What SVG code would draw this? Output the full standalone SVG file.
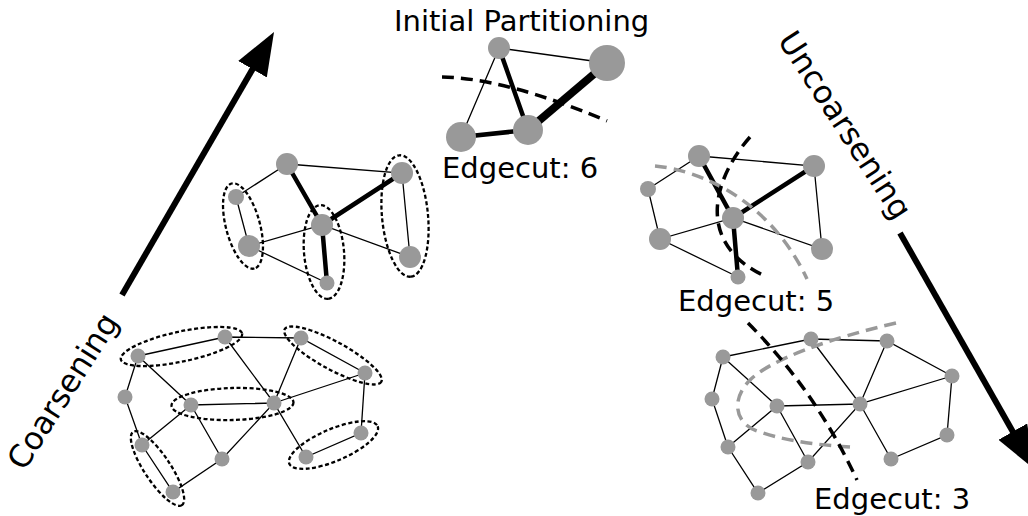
<svg xmlns="http://www.w3.org/2000/svg" width="1028" height="516" viewBox="0 0 1028 516">
<defs>
<style>
.n{fill:#999}
.e{stroke:#000;stroke-width:1.3;fill:none}
.t{stroke:#000;stroke-width:4.5;fill:none}
.grp{fill:none;stroke:#000;stroke-width:2.3;stroke-dasharray:4 2.5}
.cut{fill:none;stroke:#000;stroke-width:3.5;stroke-dasharray:12 7}
.gcut{fill:none;stroke:#999;stroke-width:3.5;stroke-dasharray:12 7}
.arr{stroke:#000;stroke-width:6;fill:none}
.lbl{font-family:"DejaVu Sans",sans-serif;font-size:29px;fill:#000}
.rot{font-size:31.5px}
</style>
<marker id="head" markerUnits="userSpaceOnUse" markerWidth="43" markerHeight="33" viewBox="0 0 43 33" refX="3" refY="16.5" orient="auto">
<path d="M0,0 L43,16.5 L0,33 z" fill="#000"/>
</marker>
</defs>
<rect width="1028" height="516" fill="#fff"/>

<g id="connectors">
<path class="e" d="M138,356 L225,337 L301,338 L365,373 M138,356 L125,397 L142,445 L173,492 L222,459 L274,403 L191,405 L138,356 M225,337 L274,403 L301,338 M365,373 L274,403 L306,457 L361,433 L365,373 M191,405 L142,445 M191,405 L222,459"/>
<path class="e" d="M287,164 L402,173 L410,257 L322,225 L249,246 L236,197 L287,164 M249,246 L327,283"/>
<path class="t" d="M287,164 L322,225 L327,283 M322,225 L402,173"/>
<path class="e" d="M499,48 L607,63 M499,48 L461,137"/>
<path class="t" d="M499,48 L528,130 L461,137"/>
<path stroke="#000" stroke-width="8" d="M528,130 L607,63"/>
<path class="e" d="M699,156 L814,166 L822,249 L733,218 L660,239 L648,189 L699,156 M660,239 L738,277"/>
<path class="t" d="M699,156 L733,218 L738,277 M733,218 L814,166"/>
<path class="e" d="M723,357 L811,339 L887,341 L952,376 M723,357 L712,399 L728,447 L758,493 L808,462 L860,404 L777,406 L723,357 M811,339 L860,404 L887,341 M952,376 L860,404 L891,459 L947,435 L952,376 M777,406 L728,447 M777,406 L808,462"/>
<path class="arr" d="M122,295 L254,66.6" marker-end="url(#head)"/>
<path class="arr" d="M900,233 L1014.3,434.2" marker-end="url(#head)"/>
</g>

<g id="nodes-level0">
<g id="a0"><circle class="n" cx="138" cy="356" r="7.5"/></g>
<g id="a1"><circle class="n" cx="225" cy="337" r="7.5"/></g>
<g id="a2"><circle class="n" cx="301" cy="338" r="7.5"/></g>
<g id="a3"><circle class="n" cx="365" cy="373" r="7.5"/></g>
<g id="a4"><circle class="n" cx="125" cy="397" r="7.5"/></g>
<g id="a5"><circle class="n" cx="191" cy="405" r="7.5"/></g>
<g id="a6"><circle class="n" cx="274" cy="403" r="7.5"/></g>
<g id="a7"><circle class="n" cx="361" cy="433" r="7.5"/></g>
<g id="a8"><circle class="n" cx="142" cy="445" r="7.5"/></g>
<g id="a9"><circle class="n" cx="222" cy="459" r="7.5"/></g>
<g id="a10"><circle class="n" cx="306" cy="457" r="7.5"/></g>
<g id="a11"><circle class="n" cx="173" cy="492" r="7.5"/></g>
</g>
<g id="nodes-level1">
<g id="b0"><circle class="n" cx="287" cy="164" r="11"/></g>
<g id="b1"><circle class="n" cx="236" cy="197" r="8"/></g>
<g id="b2"><circle class="n" cx="249" cy="246" r="11"/></g>
<g id="b3"><circle class="n" cx="322" cy="225" r="11"/></g>
<g id="b4"><circle class="n" cx="327" cy="283" r="7.5"/></g>
<g id="b5"><circle class="n" cx="402" cy="173" r="11"/></g>
<g id="b6"><circle class="n" cx="410" cy="257" r="11"/></g>
</g>
<g id="nodes-level2">
<g id="c0"><circle class="n" cx="499" cy="48" r="11"/></g>
<g id="c1"><circle class="n" cx="607" cy="63" r="18"/></g>
<g id="c2"><circle class="n" cx="461" cy="137" r="15"/></g>
<g id="c3"><circle class="n" cx="528" cy="130" r="15"/></g>
</g>
<g id="nodes-proj1">
<g id="d0"><circle class="n" cx="699" cy="156" r="11"/></g>
<g id="d1"><circle class="n" cx="648" cy="189" r="8"/></g>
<g id="d2"><circle class="n" cx="660" cy="239" r="11"/></g>
<g id="d3"><circle class="n" cx="733" cy="218" r="11"/></g>
<g id="d4"><circle class="n" cx="738" cy="277" r="7.5"/></g>
<g id="d5"><circle class="n" cx="814" cy="166" r="11"/></g>
<g id="d6"><circle class="n" cx="822" cy="249" r="11"/></g>
</g>
<g id="nodes-proj0">
<g id="f0"><circle class="n" cx="723" cy="357" r="7.5"/></g>
<g id="f1"><circle class="n" cx="811" cy="339" r="7.5"/></g>
<g id="f2"><circle class="n" cx="887" cy="341" r="7.5"/></g>
<g id="f3"><circle class="n" cx="952" cy="376" r="7.5"/></g>
<g id="f4"><circle class="n" cx="712" cy="399" r="7.5"/></g>
<g id="f5"><circle class="n" cx="777" cy="406" r="7.5"/></g>
<g id="f6"><circle class="n" cx="860" cy="404" r="7.5"/></g>
<g id="f7"><circle class="n" cx="947" cy="435" r="7.5"/></g>
<g id="f8"><circle class="n" cx="728" cy="447" r="7.5"/></g>
<g id="f9"><circle class="n" cx="808" cy="462" r="7.5"/></g>
<g id="f10"><circle class="n" cx="891" cy="459" r="7.5"/></g>
<g id="f11"><circle class="n" cx="758" cy="493" r="7.5"/></g>
</g>

<g id="groupings">
<ellipse class="grp" cx="181.5" cy="346.5" rx="62" ry="15" transform="rotate(-12 181.5 346.5)"/>
<ellipse class="grp" cx="333" cy="355.5" rx="55" ry="14" transform="rotate(28.5 333 355.5)"/>
<ellipse class="grp" cx="232.5" cy="404" rx="61" ry="16" transform="rotate(-1.5 232.5 404)"/>
<ellipse class="grp" cx="157.5" cy="468.5" rx="44" ry="13" transform="rotate(56.4 157.5 468.5)"/>
<ellipse class="grp" cx="333.5" cy="445" rx="48" ry="16" transform="rotate(-23 333.5 445)"/>
<ellipse class="grp" cx="243" cy="226" rx="44" ry="17" transform="rotate(75 243 226)"/>
<ellipse class="grp" cx="324" cy="252" rx="47" ry="20" transform="rotate(85 324 252)"/>
<ellipse class="grp" cx="405" cy="216" rx="61" ry="23" transform="rotate(84.6 405 216)"/>
</g>

<g id="cuts">
<path class="cut" d="M442,77 Q505,78 607,121"/>
<path class="gcut" d="M655,166 C700,170 770,200 807,279"/>
<path class="cut" d="M750,137 C712,180 695,245 767,277"/>
<path class="gcut" d="M896,323 C830,338 770,360 750,380 C730,400 735,425 760,432 C790,442 820,445 850,447"/>
<path class="cut" d="M748,323 Q815,390 857,480"/>
</g>

<g id="labels">
<text class="lbl" x="394" y="31">Initial Partitioning</text>
<text class="lbl" x="442" y="178">Edgecut: 6</text>
<text class="lbl" x="678" y="311">Edgecut: 5</text>
<text class="lbl" x="814" y="509">Edgecut: 3</text>
<text class="lbl rot" text-anchor="middle" transform="translate(72 397) rotate(-57.5)">Coarsening</text>
<text class="lbl rot" text-anchor="middle" transform="translate(836 131) rotate(57)">Uncoarsening</text>
</g>
</svg>
